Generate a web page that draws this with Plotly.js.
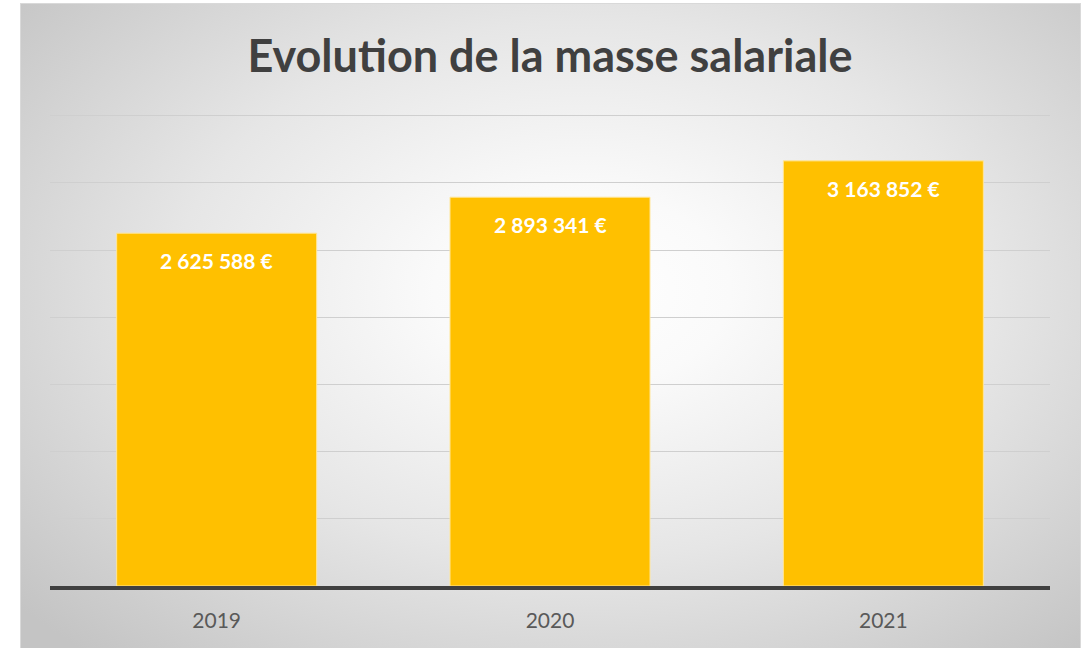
<!DOCTYPE html>
<html>
<head>
<meta charset="utf-8">
<script src="https://cdn.plot.ly/plotly-3.0.1.min.js"></script>
<style>
  html, body { margin: 0; padding: 0; background: #ffffff; width: 1089px; height: 648px; overflow: hidden; }
  #box { position: absolute; left: 20px; top: 3px; width: 1059px; height: 650px; border: 1px solid #d9d9d9;
         background: radial-gradient(ellipse 70% 75% at 53% 44%, #ffffff 0%, #fafafa 20%, #e6e6e6 55%, #c4c4c4 100%); }
  #chart { position: absolute; left: 0; top: 0; width: 1089px; height: 648px; }
</style>
</head>
<body>
<div id="box"></div>
<div id="chart"></div>
<script>
const years = ["2019", "2020", "2021"];
const salaries = [2625588, 2893341, 3163852];
const labels = ["2 625 588 €", "2 893 341 €", "3 163 852 €"];
const chartTitle = "Evolution de la masse salariale";

const FONT = "Lato, 'Open Sans', sans-serif";

const trace = {
  type: "bar",
  x: years,
  y: salaries,
  marker: { color: "#FFC000", line: { color: "#FFE699", width: 1 } },
  hoverinfo: "skip"
};

const annotations = years.map((yr, i) => ({
  x: i, y: salaries[i], xref: "x", yref: "y",
  text: "<b>" + labels[i] + "</b>",
  showarrow: false, yanchor: "top", yshift: -13,
  font: { family: FONT, size: 21, color: "#ffffff" }
}));

const layout = {
  width: 1089, height: 648,
  paper_bgcolor: "rgba(0,0,0,0)",
  plot_bgcolor: "rgba(0,0,0,0)",
  margin: { l: 50, r: 39, t: 113, b: 62 },
  title: {
    text: "<b>" + chartTitle + "</b>",
    x: 0.505, xanchor: "center", y: 0.913, yanchor: "middle",
    font: { family: FONT, size: 45, color: "#404040" }
  },
  bargap: 0.4,
  showlegend: false,
  xaxis: {
    type: "category",
    categoryorder: "array", categoryarray: years,
    showgrid: false,
    showline: true, linecolor: "#404040", linewidth: 4,
    ticks: "",
    tickfont: { family: FONT, size: 21, color: "#595959" },
    ticklabelstandoff: 13
  },
  yaxis: {
    range: [0, 3520000],
    dtick: 500000,
    showgrid: true, gridcolor: "#cfcfcf", gridwidth: 1,
    zeroline: false,
    showticklabels: false,
    ticks: "",
    fixedrange: true
  },
  annotations: annotations
};

Plotly.newPlot("chart", [trace], layout, { displayModeBar: false, staticPlot: true });
</script>
</body>
</html>
